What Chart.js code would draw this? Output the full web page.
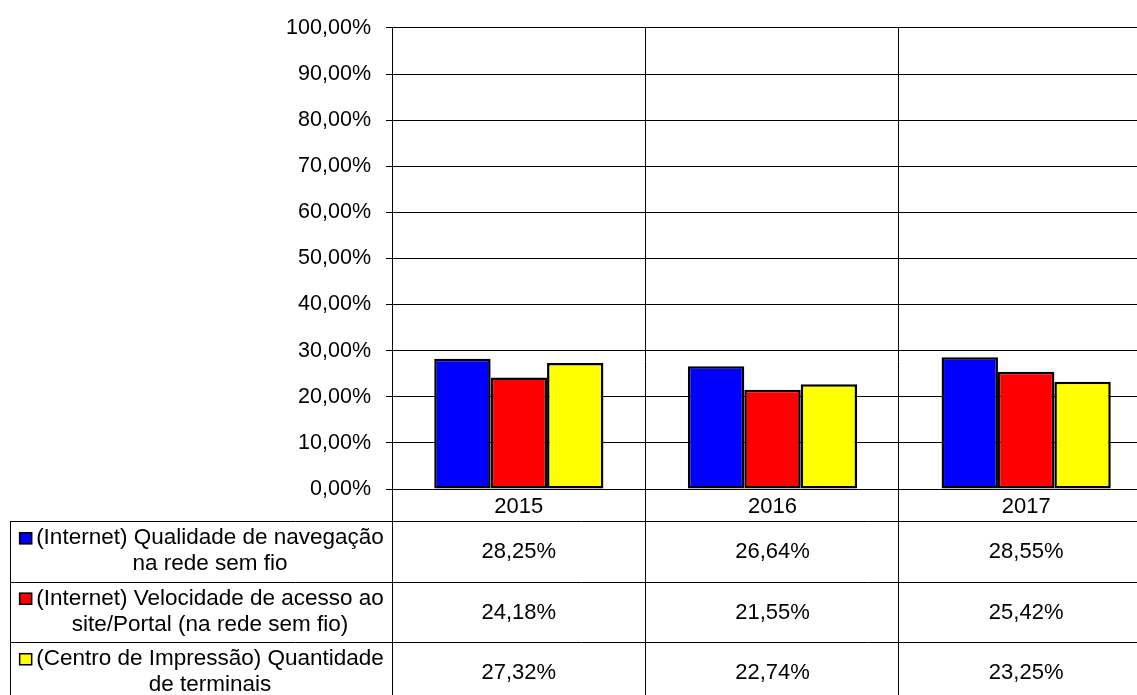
<!DOCTYPE html>
<html lang="pt">
<head>
<meta charset="utf-8">
<title>Avaliação da infraestrutura</title>
<script src="https://cdn.jsdelivr.net/npm/chart.js@4.4.0/dist/chart.umd.min.js"></script>
<style>
    html, body { margin: 0; padding: 0; background: #fff; overflow: hidden; }
    #wrap { width: 1137px; height: 695px; overflow: hidden; position: relative; }
    canvas { display: block; }
</style>
</head>
<body>
<div id="wrap"><canvas id="chart" width="1153" height="695"></canvas></div>
<script>
// --- Data ---
const years = ['2015', '2016', '2017'];
const qualidade = [28.25, 26.64, 28.55];
const velocidade = [24.18, 21.55, 25.42];
const terminais = [27.32, 22.74, 23.25];

const seriesLabels = [
    ['(Internet) Qualidade de navegação', 'na rede sem fio'],
    ['(Internet) Velocidade de acesso ao', 'site/Portal (na rede sem fio)'],
    ['(Centro de Impressão) Quantidade', 'de terminais']
];
const seriesColors = ['#0000FF', '#FF0000', '#FFFF00'];

const fmt = v => v.toFixed(2).replace('.', ',') + '%';
const FONT = 'Arial, "Liberation Sans", sans-serif';

// --- Data table under the plot (drawn from the same arrays) ---
const dataTable = {
    id: 'dataTable',
    afterDraw(chart) {
        const ctx = chart.ctx;
        const area = chart.chartArea;
        const xs = chart.scales.x;
        const H = chart.height;
        const n = years.length;
        const colW = (area.right - area.left) / n;
        const rowTop = 521;
        const rowH = 60.5;

        ctx.save();
        ctx.strokeStyle = '#000';
        ctx.lineWidth = 1;

        // category dividers, through plot and table
        for (let i = 1; i <= n; i++) {
            const x = Math.round(area.left + i * colW) - 0.5;
            ctx.beginPath();
            ctx.moveTo(x, area.top);
            ctx.lineTo(x, H);
            ctx.stroke();
        }
        // axis line continues down through table
        ctx.beginPath();
        ctx.moveTo(area.left + 0.5, area.bottom);
        ctx.lineTo(area.left + 0.5, H);
        ctx.stroke();

        // row lines
        for (let r = 0; r <= seriesLabels.length; r++) {
            const y = Math.round(rowTop + r * rowH) + 0.5;
            ctx.beginPath();
            ctx.moveTo(10, y);
            ctx.lineTo(chart.width, y);
            ctx.stroke();
        }
        ctx.beginPath();
        ctx.moveTo(10.5, rowTop);
        ctx.lineTo(10.5, H);
        ctx.stroke();

        ctx.fillStyle = '#000';
        ctx.textBaseline = 'middle';
        ctx.textAlign = 'center';

        const series = [qualidade, velocidade, terminais];
        series.forEach((vals, r) => {
            const cy = rowTop + r * rowH + rowH / 2;
            // legend text
            const lines = seriesLabels[r];
            const tx = 210;
            ctx.font = '22.5px ' + FONT;
            ctx.fillText(lines[0], tx, cy - 13);
            ctx.fillText(lines[1], tx, cy + 13);
            const w = ctx.measureText(lines[0]).width;
            const boxR = tx - w / 2 - 4;
            ctx.fillStyle = seriesColors[r];
            ctx.fillRect(boxR - 13, cy - 19, 13, 12);
            ctx.lineWidth = 1.5;
            ctx.strokeRect(boxR - 13 + 0.5, cy - 19 + 0.5, 12, 11);
            ctx.lineWidth = 1;
            ctx.fillStyle = '#000';
            // values
            ctx.font = '22px ' + FONT;
            vals.forEach((v, i) => {
                ctx.fillText(fmt(v), xs.getPixelForValue(i), cy + 1);
            });
        });
        ctx.restore();
    }
};

Chart.defaults.font.family = FONT;
Chart.defaults.font.size = 21.5;
Chart.defaults.color = '#000';

new Chart(document.getElementById('chart'), {
    type: 'bar',
    data: {
        labels: years,
        datasets: [qualidade, velocidade, terminais].map((d, i) => ({
            label: seriesLabels[i].join(' '),
            data: d,
            backgroundColor: seriesColors[i],
            borderColor: '#000',
            borderWidth: 2.5,
            borderSkipped: false,
            categoryPercentage: 0.667,
            barPercentage: 1.0
        }))
    },
    options: {
        responsive: false,
        animation: false,
        devicePixelRatio: 1,
        layout: { padding: { top: 26, left: 0, right: 0, bottom: 0 } },
        plugins: {
            legend: { display: false },
            tooltip: { enabled: false }
        },
        scales: {
            x: {
                grid: { display: false, drawTicks: false },
                border: { display: false },
                ticks: { padding: 5, color: '#000', font: { size: 22 } },
                afterFit: scale => { scale.height = 695 - 489; }
            },
            y: {
                min: 0,
                max: 100,
                ticks: { stepSize: 10, padding: 15, color: '#000', callback: v => fmt(v) },
                grid: { color: '#000', lineWidth: 1, tickLength: 6 },
                border: { display: true, color: '#000', width: 1 },
                afterFit: scale => { scale.width = 392; }
            }
        }
    },
    plugins: [dataTable]
});
</script>
</body>
</html>
